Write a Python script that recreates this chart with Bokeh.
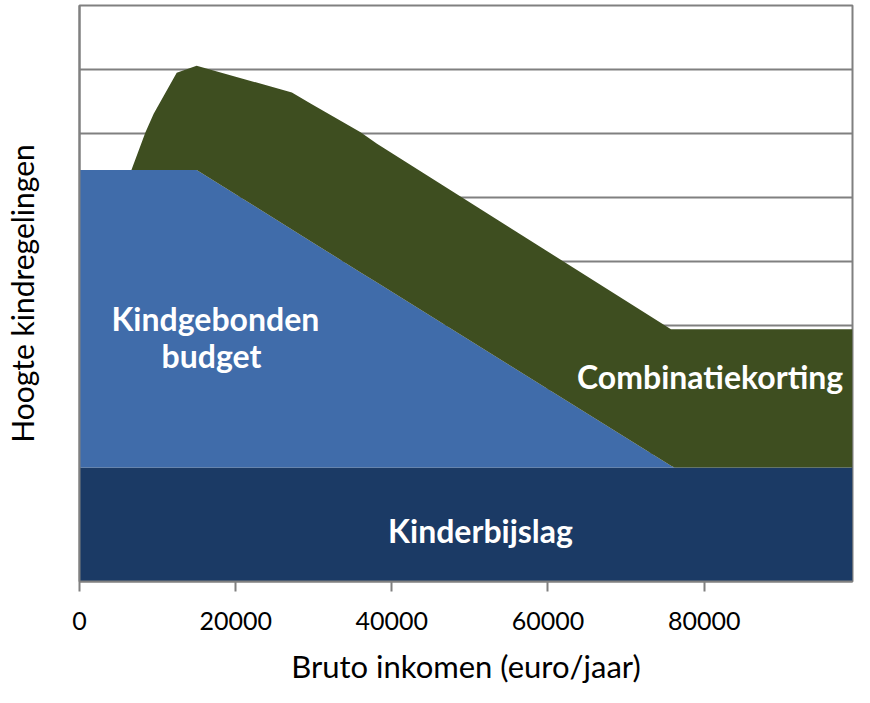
from bokeh.plotting import figure
from bokeh.models import ColumnDataSource, Range1d, FixedTicker, Label
from bokeh.embed import file_html
from bokeh.resources import INLINE

# Data
income = [0, 6650, 8450, 9500, 12450, 15000, 27200, 29700, 36000, 38100, 75750, 76200, 99000]
kinderbijslag = [1.78] * 13
kindgebonden_budget = [4.65, 4.65, 4.65, 4.65, 4.65, 4.65, 3.72, 3.53, 3.05, 2.89, 0.03, 0.0, 0.0]
combinatiekorting = [0.0, 0.0, 0.59, 0.88, 1.52, 1.63, 2.14, 2.15, 2.19, 2.17, 2.13, 2.16, 2.16]
x_ticks = [0, 20000, 40000, 60000, 80000]
x_tick_labels = ["0", "20000", "40000", "60000", "80000"]
series_names = ["kinderbijslag", "kindgebonden_budget", "combinatiekorting"]
series_colors = ["#1B3A65", "#406CAA", "#3E4E20"]

source = ColumnDataSource(dict(
    income=income,
    kinderbijslag=kinderbijslag,
    kindgebonden_budget=kindgebonden_budget,
    combinatiekorting=combinatiekorting,
))

FONT = "Lato"

p = figure(width=854, height=687, output_backend="svg", toolbar_location=None,
           x_range=Range1d(0, 99000), y_range=Range1d(0, 9),
           min_border_left=78, min_border_right=2, min_border_top=5, min_border_bottom=10)

p.varea_stack(stackers=series_names, x="income", color=series_colors, source=source)

p.outline_line_color = "#808080"
p.outline_line_width = 2
p.background_fill_color = "white"

p.xgrid.grid_line_color = None
p.ygrid.grid_line_color = "#808080"
p.ygrid.grid_line_width = 2
p.yaxis.ticker = FixedTicker(ticks=list(range(0, 10)))

p.xaxis.ticker = FixedTicker(ticks=x_ticks)
p.xaxis.major_label_overrides = {t: l for t, l in zip(x_ticks, x_tick_labels)}
p.xaxis.minor_tick_line_color = None
p.xaxis.major_tick_in = 0
p.xaxis.major_tick_out = 10
p.xaxis.major_tick_line_color = "#808080"
p.xaxis.major_tick_line_width = 2
p.xaxis.axis_line_color = "#808080"
p.xaxis.axis_line_width = 2
p.xaxis.major_label_text_font = FONT
p.xaxis.major_label_text_font_size = "25px"
p.xaxis.major_label_text_color = "black"
p.xaxis.major_label_standoff = 20
p.xaxis.axis_label = "Bruto inkomen (euro/jaar)"
p.xaxis.axis_label_text_font = FONT
p.xaxis.axis_label_text_font_size = "31px"
p.xaxis.axis_label_text_font_style = "normal"
p.xaxis.axis_label_text_color = "black"
p.xaxis.axis_label_standoff = 14

p.yaxis.major_label_text_font_size = "0px"
p.yaxis.major_label_text_color = None
p.yaxis.major_tick_line_color = None
p.yaxis.minor_tick_line_color = None
p.yaxis.axis_line_color = "#808080"
p.yaxis.axis_line_width = 2
p.yaxis.axis_label = "Hoogte kindregelingen"
p.yaxis.axis_label_text_font = FONT
p.yaxis.axis_label_text_font_size = "30px"
p.yaxis.axis_label_text_font_style = "normal"
p.yaxis.axis_label_text_color = "black"
p.yaxis.axis_label_standoff = 34

def add_label(x, y, text):
    p.add_layout(Label(x=x, y=y, text=text, text_align="center", text_baseline="middle",
                       text_color="white", text_font=FONT, text_font_style="bold",
                       text_font_size="32px"))

add_label(17400, 4.11, "Kindgebonden")
add_label(16900, 3.53, "budget")
add_label(80760, 3.20, "Combinatiekorting")
add_label(51360, 0.79, "Kinderbijslag")

open("out.html", "w").write(file_html(p, INLINE))
